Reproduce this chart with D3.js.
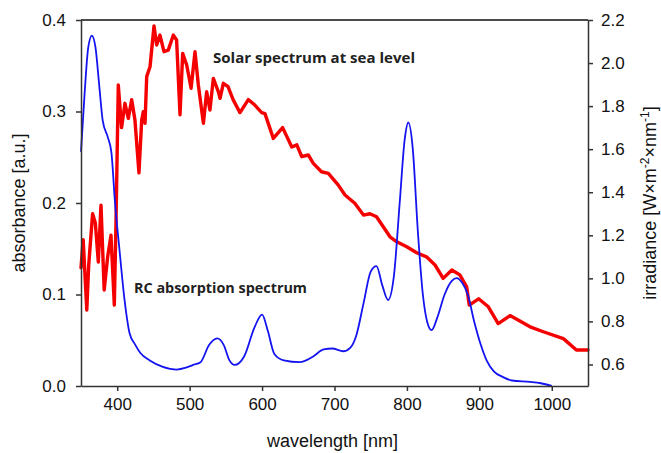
<!DOCTYPE html>
<html>
<head>
<meta charset="utf-8">
<script src="https://cdn.jsdelivr.net/npm/d3@7"></script>
<style>
  body { margin: 0; background: #fff; }
  svg { display: block; font-family: "Liberation Sans", Arial, sans-serif; }
</style>
</head>
<body>
<svg id="chart" width="661" height="453"></svg>
<script>
// RC absorption spectrum (wavelength nm, absorbance a.u.)
var absWl = [350, 355, 360, 365, 370, 375, 380, 387, 392, 397, 403, 410, 417, 425, 432, 445, 463, 482, 495, 505,
             515, 527, 538, 547, 555, 562, 575, 590, 600, 608, 617, 630, 652, 670, 685, 697, 712, 722, 730, 740, 750,
             758, 766, 774, 782, 790, 797, 802, 808, 815, 822, 828, 834, 842, 852, 862, 869, 876, 884, 893, 902,
             910, 920, 932, 945, 970, 985, 1000];
var absVal = [0.256, 0.32, 0.37, 0.383, 0.37, 0.33, 0.29, 0.272, 0.255, 0.2, 0.15, 0.095, 0.058, 0.045, 0.036, 0.028, 0.021, 0.018, 0.02, 0.023,
              0.026, 0.045, 0.052, 0.045, 0.028, 0.023, 0.032, 0.065, 0.078, 0.06, 0.035, 0.028, 0.026, 0.032, 0.040, 0.041, 0.038, 0.042, 0.055, 0.09, 0.125,
              0.131, 0.11, 0.094, 0.12, 0.2, 0.27, 0.288, 0.26, 0.17, 0.1, 0.07, 0.061, 0.075, 0.1, 0.115, 0.118, 0.113, 0.1, 0.07, 0.045,
              0.028, 0.016, 0.01, 0.006, 0.0045, 0.003, 0];

// solar spectrum at sea level (wavelength nm, irradiance W m^-2 nm^-1)
var solWl = [350, 353, 358, 360.6, 366, 369.8, 373.9, 377.6, 382, 386.8, 391.4, 396, 398.3, 401.5, 406, 410.7, 415.3, 420, 424.5, 430,
             433.8, 436, 438.4, 440.7, 445.3, 450.8, 454.5, 459, 464.6, 470.5, 477.5, 482, 486.7, 490.4, 496, 502, 507.4, 512, 519, 523.5,
             528, 532.7, 539.6, 542, 546.5, 553, 560, 569.5, 581, 590, 599.5, 604, 615.5, 628.4, 641, 648, 654.7, 663.8, 670.7, 682,
             691.5, 705, 714.5, 728, 740, 749, 758, 776.6, 786, 799.7, 813.5, 827, 838.8, 850, 862, 873, 882.5, 886, 899, 912.4,
             926, 942.4, 970, 988.3, 1016, 1034, 1050];
var solVal = [1.05, 1.18, 0.853, 1.06, 1.30, 1.257, 1.076, 1.34, 0.946, 1.10, 1.20, 0.876, 1.257, 1.898, 1.70, 1.813, 1.743, 1.83, 1.735, 1.49,
              1.735, 1.774, 1.72, 1.937, 1.983, 2.172, 2.084, 2.13, 2.053, 2.06, 2.13, 2.107, 1.76, 2.045, 1.99, 1.883, 2.053, 1.898, 1.72, 1.867,
              1.782, 1.929, 1.867, 1.836, 1.906, 1.89, 1.83, 1.77, 1.83, 1.805, 1.77, 1.765, 1.65, 1.70, 1.61, 1.62, 1.565, 1.573, 1.534, 1.495,
              1.488, 1.434, 1.387, 1.349, 1.294, 1.30, 1.286, 1.193, 1.17, 1.147, 1.119, 1.10, 1.062, 1.0, 1.039, 1.016, 0.961, 0.876, 0.905, 0.868,
              0.79, 0.827, 0.775, 0.752, 0.72, 0.667, 0.667];

var xTicks = [400, 500, 600, 700, 800, 900, 1000];
var yLeftTicks = [0.0, 0.1, 0.2, 0.3, 0.4];
var yRightTicks = [0.6, 0.8, 1.0, 1.2, 1.4, 1.6, 1.8, 2.0, 2.2];

var LEFT = 81, RIGHT = 588, TOP = 20, BOTTOM = 386;
var AXIS_COLOR = "#333";
var BLUE = "#1414f0", RED = "#f50000";

var svg = d3.select("#chart");

var x = d3.scaleLinear().domain([350, 1050]).range([LEFT, RIGHT]);
var yL = d3.scaleLinear().domain([0, 0.4]).range([BOTTOM, TOP]);
var yR = d3.scaleLinear().domain([0.5, 2.2]).range([BOTTOM, TOP]);

//draw curves
var absData = absWl.map(function (w, i) { return [w, absVal[i]]; });
var solData = solWl.map(function (w, i) { return [w, solVal[i]]; });

svg.append("path")
    .attr("class", "solar")
    .attr("d", d3.line().x(function (d) { return x(d[0]); }).y(function (d) { return yR(d[1]); })(solData))
    .style("fill", "none")
    .style("stroke", RED)
    .style("stroke-width", 3.4)
    .style("stroke-linejoin", "round")
    .style("stroke-linecap", "round");

svg.append("path")
    .attr("class", "absorb")
    .attr("d", d3.line().curve(d3.curveMonotoneX)
        .x(function (d) { return x(d[0]); }).y(function (d) { return yL(d[1]); })(absData))
    .style("fill", "none")
    .style("stroke", BLUE)
    .style("stroke-width", 1.8);

//axes
var fmt = d3.format(".1f");

var gx = svg.append("g")
    .attr("transform", "translate(0," + BOTTOM + ")")
    .call(d3.axisBottom(x).tickValues(xTicks).tickFormat(d3.format("d")).tickSize(5).tickPadding(7).tickSizeOuter(0));
var gl = svg.append("g")
    .attr("transform", "translate(" + LEFT + ",0)")
    .call(d3.axisLeft(yL).tickValues(yLeftTicks).tickFormat(fmt).tickSize(5).tickPadding(10).tickSizeOuter(0));
var gr = svg.append("g")
    .attr("transform", "translate(" + RIGHT + ",0)")
    .call(d3.axisRight(yR).tickValues(yRightTicks).tickFormat(fmt).tickSize(5).tickPadding(8).tickSizeOuter(0));

[gx, gl, gr].forEach(function (g) {
    g.selectAll("path, line").style("stroke", AXIS_COLOR).style("stroke-width", 1.5);
    g.selectAll("text").style("font-size", "17px").style("fill", "#111")
        .style("font-family", '"Liberation Sans", Arial, sans-serif');
});

//top frame line
svg.append("line")
    .attr("x1", LEFT).attr("x2", RIGHT)
    .attr("y1", TOP).attr("y2", TOP)
    .style("stroke", "#111")
    .style("stroke-width", 1.5);

//axis titles
svg.append("text")
    .attr("x", (LEFT + RIGHT) / 2 - 2)
    .attr("y", 447)
    .style("text-anchor", "middle")
    .style("font-size", "18px")
    .style("fill", "#111")
    .text("wavelength [nm]");

svg.append("text")
    .attr("transform", "translate(25," + ((TOP + BOTTOM) / 2) + ") rotate(-90)")
    .style("text-anchor", "middle")
    .style("font-size", "18px")
    .style("fill", "#111")
    .text("absorbance [a.u.]");

var irr = svg.append("text")
    .attr("transform", "translate(656," + ((TOP + BOTTOM) / 2) + ") rotate(-90)")
    .style("text-anchor", "middle")
    .style("font-size", "18px")
    .style("fill", "#111");
irr.append("tspan").text("irradiance [W×m");
irr.append("tspan").attr("dy", -7).style("font-size", "12px").text("-2");
irr.append("tspan").attr("dy", 7).text("×nm");
irr.append("tspan").attr("dy", -7).style("font-size", "12px").text("-1");
irr.append("tspan").attr("dy", 7).text("]");

//curve labels
svg.append("text")
    .attr("x", 213)
    .attr("y", 63)
    .attr("textLength", 202)
    .attr("lengthAdjust", "spacingAndGlyphs")
    .style("font-family", '"Open Sans", sans-serif')
    .style("font-weight", "bold")
    .style("font-size", "15px")
    .style("fill", "#222")
    .text("Solar spectrum at sea level");

svg.append("text")
    .attr("x", 134)
    .attr("y", 293)
    .attr("textLength", 173)
    .attr("lengthAdjust", "spacingAndGlyphs")
    .style("font-family", '"Open Sans", sans-serif')
    .style("font-weight", "bold")
    .style("font-size", "15px")
    .style("fill", "#222")
    .text("RC absorption spectrum");
</script>
</body>
</html>
